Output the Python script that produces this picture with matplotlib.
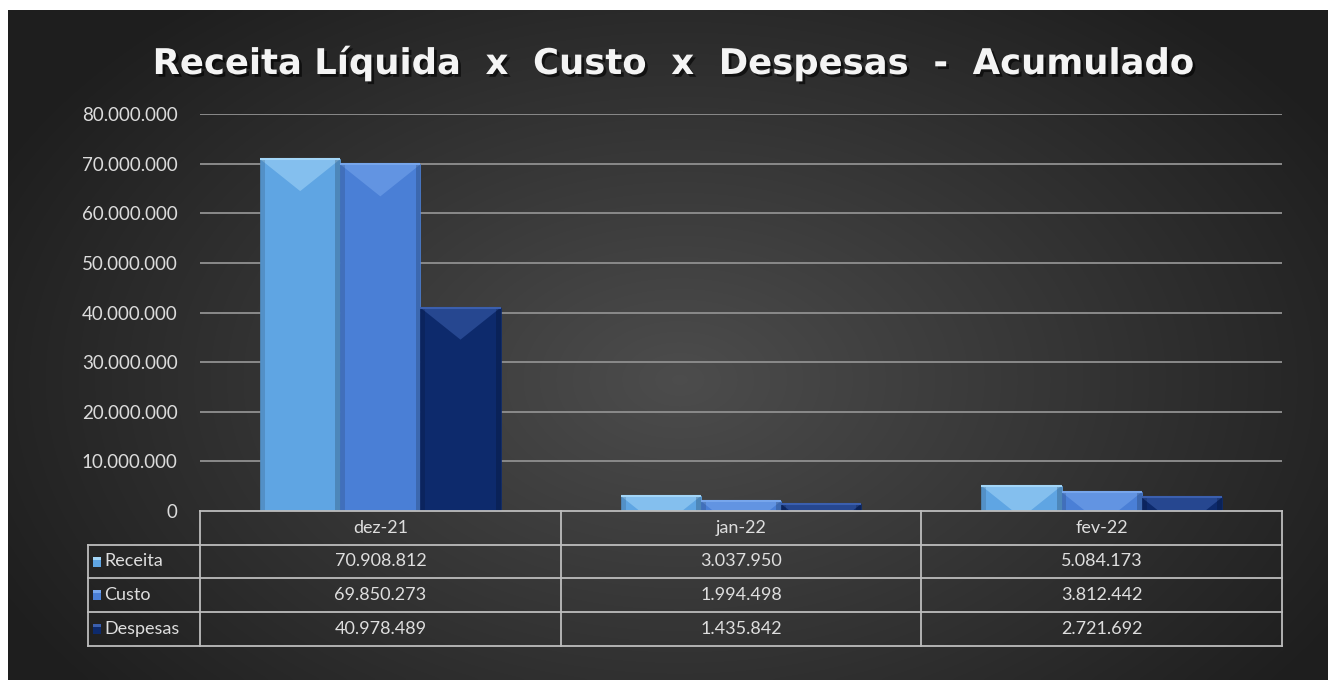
import numpy as np
import matplotlib
matplotlib.use("Agg")
import matplotlib.pyplot as plt
import matplotlib.patheffects as pe
from matplotlib.patches import Polygon, Rectangle

# dados
meses = ["dez-21", "jan-22", "fev-22"]
series = ["Receita", "Custo", "Despesas"]
receita = [70908812, 3037950, 5084173]
custo = [69850273, 1994498, 3812442]
despesas = [40978489, 1435842, 2721692]
yticks = [0, 10000000, 20000000, 30000000, 40000000, 50000000, 60000000, 70000000, 80000000]

cores = ["#5fa5e3", "#4a7fd6", "#0d2a6c"]
cores_topo = ["#a3d6f8", "#77a6ec", "#3b5fae"]

W, H = 1328, 680
plt.rcParams['font.family'] = ['Lato', 'DejaVu Sans']


def fmt(v):
    return f"{v:,.0f}".replace(",", ".")


def fx(x):
    return x / W


def fy(y):
    return 1 - y / H


fig = plt.figure(figsize=(W / 100, H / 100), dpi=100)
fig.patch.set_facecolor("white")

# fundo com gradiente radial
bg = fig.add_axes([0, 0, 1, 1], zorder=0)
bg.set_xlim(0, W)
bg.set_ylim(H, 0)
bg.axis("off")
xx, yy = np.meshgrid(np.linspace(8, W, 400), np.linspace(10, H, 220))
r = np.sqrt(((xx - 680) / 800) ** 2 + ((yy - 380) / 520) ** 2)
g = np.clip(0.30 - 0.19 * r, 0.12, 0.30)
img = np.dstack([g, g, g])
bg.imshow(img, extent=[8, W, H, 10], aspect="auto", interpolation="bicubic")

# eixo principal
ax = fig.add_axes([fx(200), fy(511), fx(1282) - fx(200), fy(114) - fy(511)], zorder=1)
ax.patch.set_alpha(0)
ax.set_xlim(-0.5, 2.5)
ax.set_ylim(0, 80000000)
for s in ax.spines.values():
    s.set_visible(False)
ax.set_xticks([])
ax.set_yticks(yticks)
ax.set_yticklabels([fmt(v) for v in yticks], color="#dcdcdc", fontsize=13.5)
ax.tick_params(axis="y", length=0, pad=16)
for v in yticks[1:]:
    ax.axhline(v, color="#8a8a8a", lw=1.4, zorder=0)

# profundidade do chanfro em unidades de dados (32 px)
depth = 32 * 80000000 / 397
largura = 2 / 9
x = np.arange(len(meses))
for i, vals in enumerate([receita, custo, despesas]):
    pos = x + (i - 1) * largura
    bars = ax.bar(pos, vals, width=largura, color=cores[i], edgecolor=cores[i], lw=0.5, zorder=2)
    for b in bars:
        x0, w, h = b.get_x(), b.get_width(), b.get_height()
        tri = Polygon([[x0, h], [x0 + w, h], [x0 + w / 2, h - depth]],
                      closed=True, color=cores_topo[i], alpha=0.55, lw=0, zorder=3)
        ax.add_patch(tri)
        tri.set_clip_path(b)
        lado = Rectangle((x0, 0), w * 0.06, h, color="black", alpha=0.12, lw=0, zorder=3)
        ax.add_patch(lado)
        lado2 = Rectangle((x0 + w * 0.94, 0), w * 0.06, h, color="black", alpha=0.18, lw=0, zorder=3)
        ax.add_patch(lado2)
        ax.plot([x0, x0 + w], [h, h], color=cores_topo[i], lw=1.5, zorder=4, solid_capstyle="butt")

# tabela de dados
tb = fig.add_axes([0, 0, 1, 1], zorder=2)
tb.set_xlim(0, W)
tb.set_ylim(H, 0)
tb.axis("off")
lc = "#bdbdbd"
lw = 1.3
cols = [200, 561, 921, 1282]
rows = [511, 545, 578, 612, 646]
tb.plot([200, 1282], [511, 511], color=lc, lw=lw)
for yv in rows[1:]:
    tb.plot([88, 1282], [yv, yv], color=lc, lw=lw)
for xv in cols:
    tb.plot([xv, xv], [511, 646], color=lc, lw=lw)
tb.plot([88, 88], [545, 646], color=lc, lw=lw)

txt = "#dedede"
for j, m in enumerate(meses):
    cx = (cols[j] + cols[j + 1]) / 2
    tb.text(cx, (rows[0] + rows[1]) / 2, m, color=txt, fontsize=13, ha="center", va="center")
for i, (nome, vals) in enumerate(zip(series, [receita, custo, despesas])):
    cy = (rows[i + 1] + rows[i + 2]) / 2
    tb.add_patch(Rectangle((93, cy - 5), 8, 10, color=cores[i], lw=0))
    tb.add_patch(Rectangle((93, cy - 5), 8, 3, color=cores_topo[i], lw=0))
    tb.text(104, cy, nome, color=txt, fontsize=13, ha="left", va="center")
    for j, v in enumerate(vals):
        cx = (cols[j] + cols[j + 1]) / 2
        tb.text(cx, cy, fmt(v), color=txt, fontsize=13, ha="center", va="center")

# titulo
tb.text(673, 74, "Receita Líquida  x  Custo  x  Despesas  -  Acumulado", color="#f4f4f4",
        fontsize=25.5, fontweight="bold", family=["DejaVu Sans"], ha="center", va="baseline",
        path_effects=[pe.SimplePatchShadow(offset=(2, -2), shadow_rgbFace="black", alpha=0.6),
                      pe.Normal()])

fig.savefig("out.png", dpi=100, facecolor=fig.get_facecolor())
